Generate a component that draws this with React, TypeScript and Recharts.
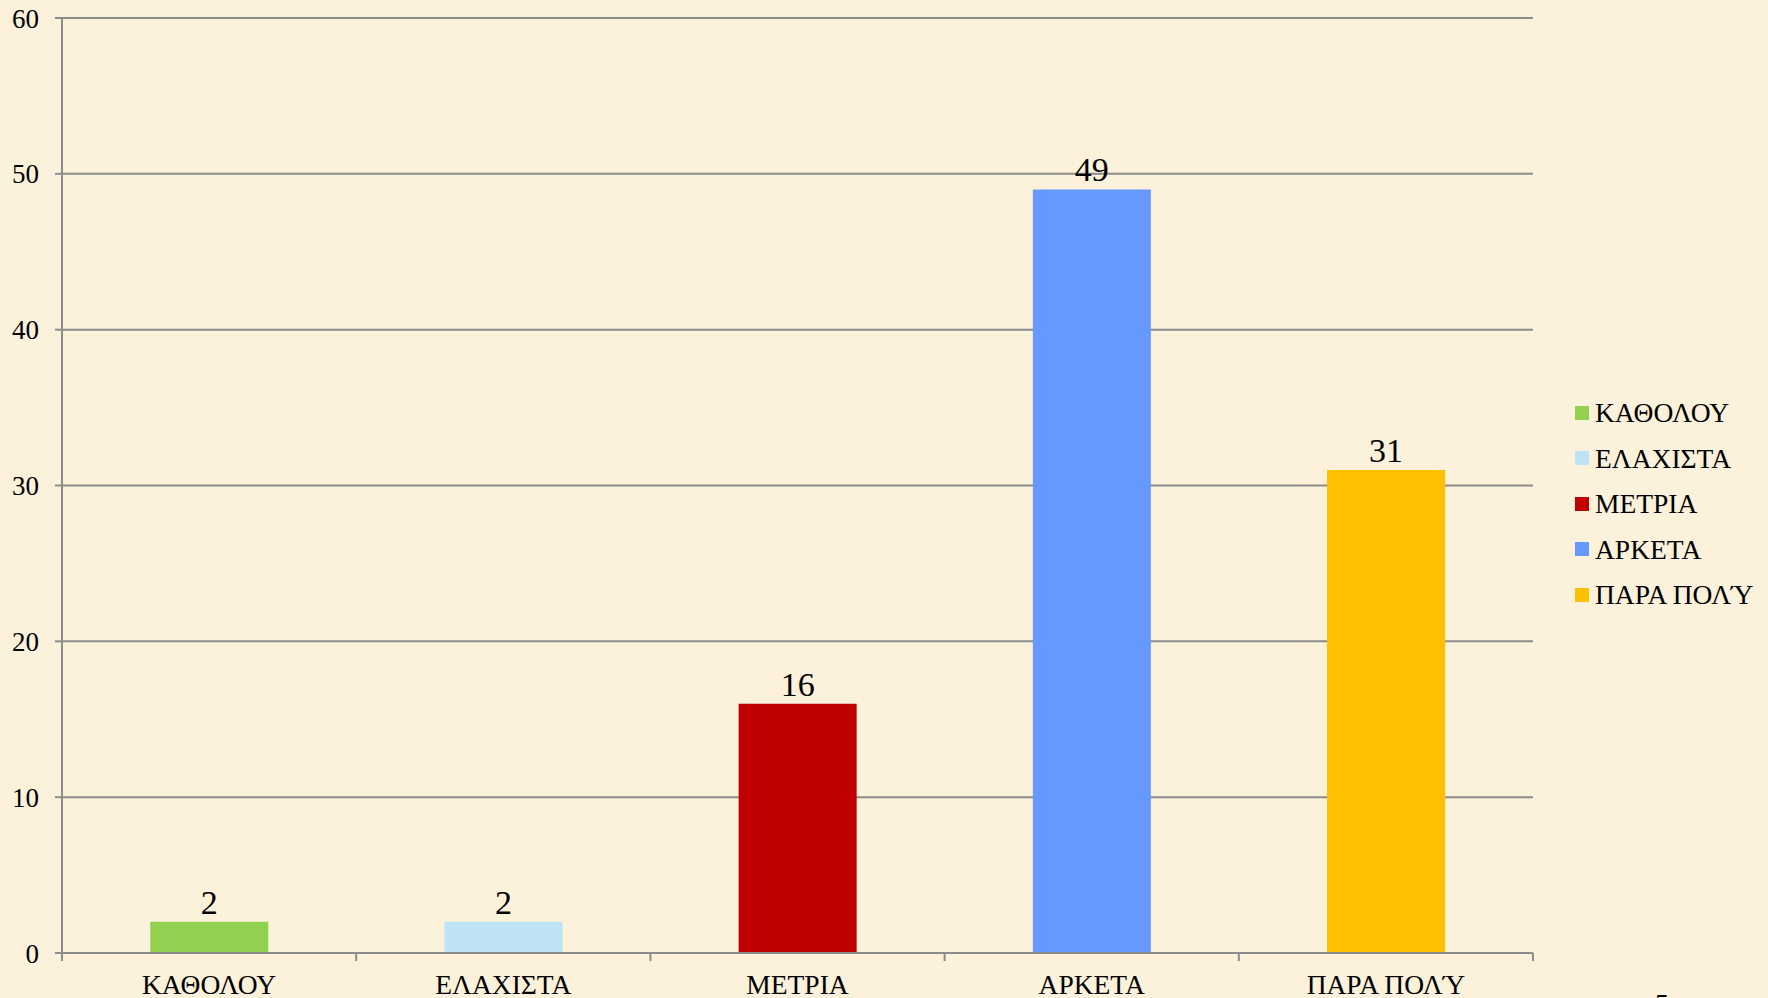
import React from "react";
import { BarChart, Bar, XAxis, YAxis, CartesianGrid, Cell, LabelList, Legend } from "recharts";

const categories = ["ΚΑΘΟΛΟΥ", "ΕΛΑΧΙΣΤΑ", "ΜΕΤΡΙΑ", "ΑΡΚΕΤΑ", "ΠΑΡΑ ΠΟΛΎ"];
const values = [2, 2, 16, 49, 31];
const colors = ["#92D050", "#BDE3F5", "#C00000", "#6699FF", "#FFC000"];
const yTicks = [0, 10, 20, 30, 40, 50, 60];

const data = categories.map((name, i) => ({ name, value: values[i] }));

const FONT = "'Liberation Serif', 'Times New Roman', serif";
const AXIS = "#8C8C8C";
const TICK_SIZE = 8;
const TICK_MARGIN = 13;

const XTick = (props: any) => {
  const { x, y, payload, index } = props;
  const off = payload && payload.offset ? payload.offset : 0;
  const y0 = y - TICK_SIZE - TICK_MARGIN;
  return (
    <g>
      <line x1={x + off} x2={x + off} y1={y0} y2={y0 + TICK_SIZE} stroke={AXIS} strokeWidth={2} />
      {index === 0 && (
        <line x1={x - off} x2={x - off} y1={y0} y2={y0 + TICK_SIZE} stroke={AXIS} strokeWidth={2} />
      )}
      <text x={x} y={y} dy="0.71em" textAnchor="middle" fontSize={27.5} fontFamily={FONT} fill="#000">
        {payload.value}
      </text>
    </g>
  );
};

const LegendContent = () => (
  <div style={{ fontFamily: FONT }}>
    {categories.map((c, i) => (
      <div key={c} style={{ height: 45.5, display: "flex", alignItems: "center" }}>
        <span style={{ width: 14, height: 14, background: colors[i], display: "inline-block", marginRight: 6 }} />
        <span style={{ fontSize: 27.5, lineHeight: 1, color: "#000", whiteSpace: "nowrap" }}>{c}</span>
      </div>
    ))}
  </div>
);

export default function App() {
  return (
    <div
      style={{
        position: "absolute",
        left: 0,
        top: 0,
        width: 1768,
        height: 998,
        overflow: "hidden",
        background: "#FCF1DA",
      }}
    >
      <BarChart
        width={1768}
        height={998}
        data={data}
        margin={{ top: 18, right: 235, left: 0, bottom: 0 }}
        barCategoryGap="30%"
      >
        <CartesianGrid vertical={false} stroke={AXIS} strokeWidth={2} />
        <XAxis
          dataKey="name"
          height={45}
          interval={0}
          tickLine={false}
          tickSize={TICK_SIZE}
          tickMargin={TICK_MARGIN}
          axisLine={{ stroke: AXIS, strokeWidth: 2 }}
          tick={<XTick />}
        />
        <YAxis
          width={62}
          domain={[0, 60]}
          ticks={yTicks}
          interval={0}
          tickSize={7}
          tickMargin={16}
          axisLine={{ stroke: AXIS, strokeWidth: 2 }}
          tickLine={{ stroke: AXIS, strokeWidth: 2 }}
          tick={{ fontSize: 27, fontFamily: FONT, fill: "#000" }}
        />
        <Legend
          layout="horizontal"
          verticalAlign="middle"
          align="center"
          content={<LegendContent />}
          wrapperStyle={{ left: 1575, top: 390, width: 190 }}
        />
        <Bar dataKey="value" isAnimationActive={false}>
          {data.map((d, i) => (
            <Cell key={d.name} fill={colors[i]} />
          ))}
          <LabelList dataKey="value" position="top" offset={8} fontSize={34} fontFamily={FONT} fill="#000" />
        </Bar>
      </BarChart>
      <span
        style={{
          position: "absolute",
          left: 1655,
          top: 990,
          fontSize: 28,
          lineHeight: "28px",
          fontFamily: FONT,
          color: "#000",
        }}
      >
        5
      </span>
    </div>
  );
}
